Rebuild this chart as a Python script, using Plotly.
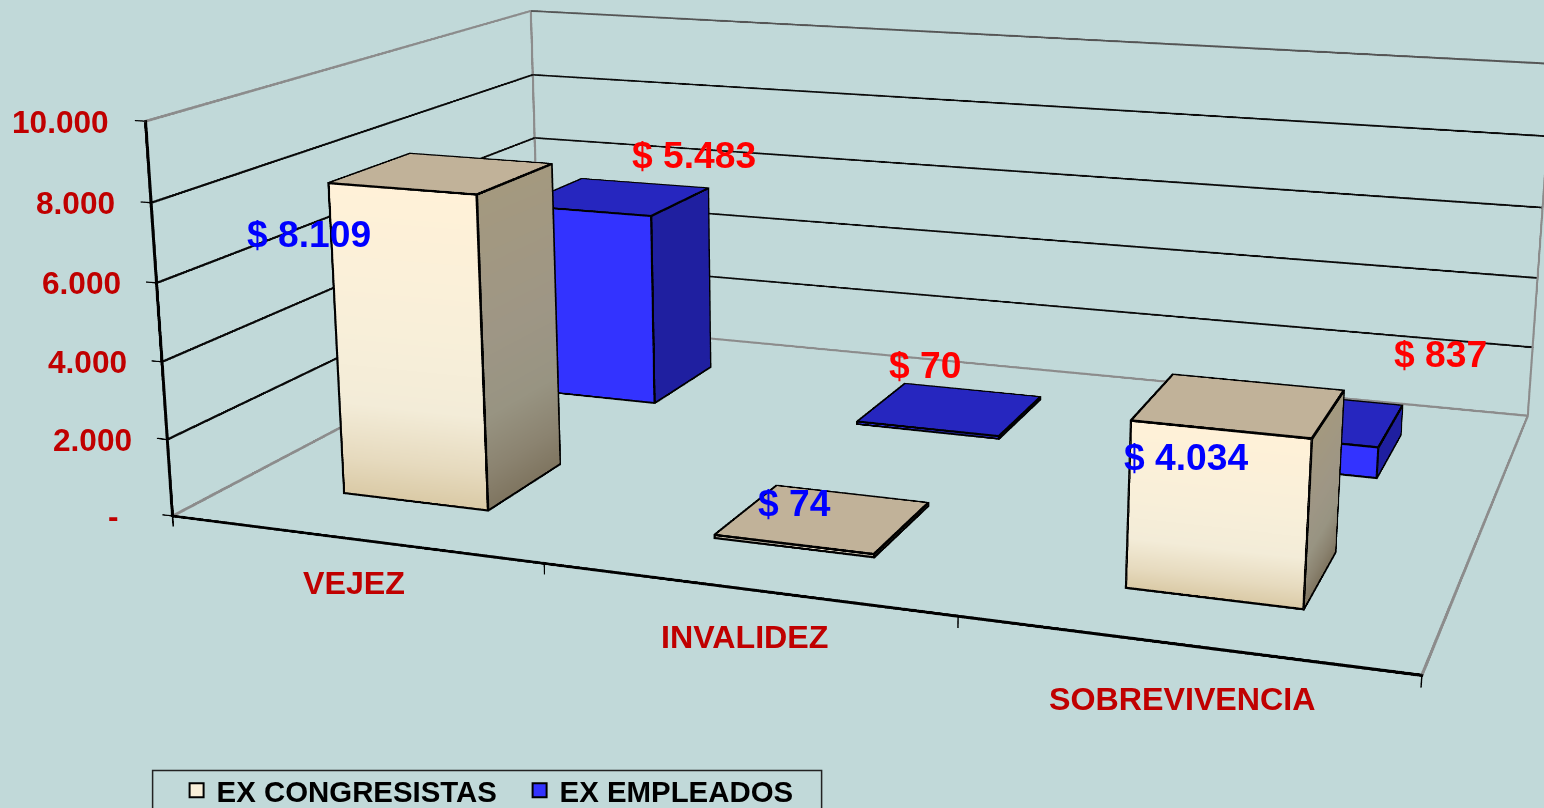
import math
import numpy as np
import plotly.graph_objects as go

# ---------- data ----------
CATEGORIES = ["VEJEZ", "INVALIDEZ", "SOBREVIVENCIA"]
EX_CONGRESISTAS = [8109, 74, 4034]
EX_EMPLEADOS = [5483, 70, 837]
SERIES_NAMES = ["EX CONGRESISTAS", "EX EMPLEADOS"]
LABELS_CONGRESISTAS = ["$ 8.109", "$ 74", "$ 4.034"]
LABELS_EMPLEADOS = ["$ 5.483", "$ 70", "$ 837"]
Z_TICKS = [0, 2000, 4000, 6000, 8000, 10000]
Z_TICK_LABELS = ["-", "2.000", "4.000", "6.000", "8.000", "10.000"]

# ---------- style ----------
BG = "#C1D9D9"
ZMAX = 10000
XM = len(CATEGORIES)
BAR_X = (0.3, 0.7)
BAR_Y = [(0.15, 0.35), (0.65, 0.85)]
GRAD_STOPS = [0.0, 0.12, 0.3, 0.55, 1.0]
FRONT = [["#DACAA6", "#E6DABE", "#F3ECD8", "#F8EFD9", "#FFF1D8"],
         ["#3333FF"] * 5]
SIDE = [["#7F7560", "#8B8370", "#989482", "#9E9685", "#A4997F"],
        ["#1F1FA0"] * 5]
TOP = ["#C1B299", "#2626BF"]
EX, EY, EZ = 0.06, 0.02, 450   # room round the box for ticks and line thickness

# fitted camera
EYE = np.array([0.7093, -2.0832, 0.5274])
YAW, PITCH = 1.9213, -0.2662
ASPECT = np.array([1.0, 0.6722, 0.3235])
F, CX, CY = 2672.78, 834.4, 363.4
FIG_W, FIG_H = 4000, round(2 * F * math.tan(math.pi / 8))
LEFT, TOP_OFF = CX - FIG_W / 2, CY - FIG_H / 2
PX = np.linalg.norm(EYE) / F   # scene units per pixel, roughly

D = np.array([math.cos(PITCH) * math.cos(YAW), math.cos(PITCH) * math.sin(YAW), math.sin(PITCH)])
CENTER = EYE + D * np.linalg.norm(EYE)
R = np.cross(D, [0, 0, 1]); R = R / np.linalg.norm(R)
U = np.cross(R, D)


def project(x, y, z):
    w = (np.array([x / XM, y, z / ZMAX]) - 0.5) * ASPECT - EYE
    return CX + F * (w @ R) / (w @ D), CY - F * (w @ U) / (w @ D)


def box(x0, x1, y0, y1, h, front, side, top):
    xs, ys, zs, cs, I, J, K = [], [], [], [], [], [], []

    def quad_strip(p0, p1, colors):
        n = len(xs)
        for t, c in zip(GRAD_STOPS, colors):
            for p in (p0, p1):
                xs.append(p[0]); ys.append(p[1]); zs.append(h * t); cs.append(c)
        for r in range(len(GRAD_STOPS) - 1):
            a = n + 2 * r
            I.extend([a, a + 1]); J.extend([a + 1, a + 3]); K.extend([a + 2, a + 2])

    quad_strip((x0, y0), (x1, y0), front)
    quad_strip((x1, y0), (x1, y1), side)
    quad_strip((x1, y1), (x0, y1), side)
    quad_strip((x0, y1), (x0, y0), front)
    n = len(xs)
    for px, py in ((x0, y0), (x1, y0), (x1, y1), (x0, y1)):
        xs.append(px); ys.append(py); zs.append(h); cs.append(top)
    I.extend([n, n]); J.extend([n + 1, n + 2]); K.extend([n + 2, n + 3])
    return go.Mesh3d(x=xs, y=ys, z=zs, i=I, j=J, k=K, vertexcolor=cs, flatshading=True,
                     lighting=dict(ambient=1, diffuse=0, specular=0, fresnel=0, roughness=1),
                     hoverinfo="skip", showlegend=False)


def bar_segments(x0, x1, y0, y1, h):
    c = [(x0, y0), (x1, y0), (x1, y1), (x0, y1)]
    seg = []
    for i in range(4):
        a, b = c[i], c[(i + 1) % 4]
        seg.append(((a[0], a[1], 0), (b[0], b[1], 0)))
        seg.append(((a[0], a[1], h), (b[0], b[1], h)))
        seg.append(((a[0], a[1], 0), (a[0], a[1], h)))
    return seg


def lines_mesh(segments, color, width_px):
    """Axis-aligned segments drawn as thin tubes: WebGL lines stay one pixel wide."""
    h = 0.42 * width_px * PX
    hv = np.array([h * XM / ASPECT[0], h / ASPECT[1], h * ZMAX / ASPECT[2]])
    xs, ys, zs, I, J, K = [], [], [], [], [], []
    tris = [(0, 1, 2), (0, 2, 3), (4, 5, 6), (4, 6, 7), (0, 1, 5), (0, 5, 4),
            (1, 2, 6), (1, 6, 5), (2, 3, 7), (2, 7, 6), (3, 0, 4), (3, 4, 7)]
    for a, b in segments:
        lo = np.minimum(a, b) - hv
        hi = np.maximum(a, b) + hv
        n = len(xs)
        for px, py, pz in [(0, 0, 0), (1, 0, 0), (1, 1, 0), (0, 1, 0),
                           (0, 0, 1), (1, 0, 1), (1, 1, 1), (0, 1, 1)]:
            xs.append(float(hi[0] if px else lo[0]))
            ys.append(float(hi[1] if py else lo[1]))
            zs.append(float(hi[2] if pz else lo[2]))
        for t in tris:
            I.append(n + t[0]); J.append(n + t[1]); K.append(n + t[2])
    return go.Mesh3d(x=xs, y=ys, z=zs, i=I, j=J, k=K, color=color, flatshading=True,
                     lighting=dict(ambient=1, diffuse=0, specular=0, fresnel=0, roughness=1),
                     hoverinfo="skip", showlegend=False)


fig = go.Figure()
bar_edges = []
for s, vals in enumerate([EX_CONGRESISTAS, EX_EMPLEADOS]):
    for c, v in enumerate(vals):
        x0, x1 = c + BAR_X[0], c + BAR_X[1]
        y0, y1 = BAR_Y[s]
        fig.add_trace(box(x0, x1, y0, y1, v, FRONT[s], SIDE[s], TOP[s]))
        bar_edges += bar_segments(x0, x1, y0, y1, v)
fig.add_trace(lines_mesh(bar_edges, "#000000", 2.2))

grid = []
for z in Z_TICKS[1:-1]:
    grid.append(((0, 0, z), (0, 1, z)))
    grid.append(((0, 1, z), (XM, 1, z)))
fig.add_trace(lines_mesh(grid, "#0A0A0A", 2.0))

frame = [((0, 0, ZMAX), (0, 1, ZMAX)), ((0, 1, 0), (0, 1, ZMAX)), ((XM, 1, 0), (XM, 1, ZMAX)),
         ((0, 0, 0), (0, 1, 0)), ((0, 1, 0), (XM, 1, 0)), ((XM, 1, 0), (XM, 0, 0))]
fig.add_trace(lines_mesh(frame, "#8C8C8C", 2.4))
fig.add_trace(lines_mesh([((0, 1, ZMAX), (XM, 1, ZMAX))], "#555555", 2.2))
fig.add_trace(lines_mesh([((0, 0, ZMAX), (0, 0, 0)), ((0, 0, 0), (XM, 0, 0))], "#000000", 2.4))

TICK_X, TICK_Z = 0.027, 260
ticks = [((-TICK_X, 0, z), (0, 0, z)) for z in Z_TICKS]
ticks += [((x, 0, -TICK_Z), (x, 0, 0)) for x in range(XM + 1)]
fig.add_trace(lines_mesh(ticks, "#000000", 1.2))

# legend entries
for name, col in zip(SERIES_NAMES, ["#F8EFD9", "#3333FF"]):
    fig.add_trace(go.Scatter3d(x=[None], y=[None], z=[None], mode="markers", name=name,
                               marker=dict(symbol="square", size=14, color=col,
                                           line=dict(color="black", width=2))))

RED_DARK = "#C00000"
FONT = "Liberation Sans"
ann = []


def label(text, x, y, z, tx, ty, size, color, xanchor="center"):
    px, py = project(x, y, z)
    ann.append(dict(x=x, y=y, z=z, text=text, showarrow=False, xanchor=xanchor, yanchor="middle",
                    xshift=tx - px, yshift=py - ty,
                    font=dict(family=FONT, size=size, color=color, weight=700)))


tick_targets = [(121, 516.5), (134, 440.5), (129, 362.5), (123, 283.5), (117, 203.5), (111, 122.5)]
for z, t, (tx, ty) in zip(Z_TICKS, Z_TICK_LABELS, tick_targets):
    label(t, 0, 0, z, tx, ty, 31.6, RED_DARK, "right")
for i, (c, (tx, ty)) in enumerate(zip(CATEGORIES, [(354, 583), (745, 637), (1183, 699)])):
    label(c, i + 0.5, 0, 0, tx, ty, 32.2, RED_DARK)
for i, (t, v, (tx, ty)) in enumerate(zip(LABELS_CONGRESISTAS, EX_CONGRESISTAS,
                                         [(309, 234.5), (795, 503), (1186, 457.5)])):
    label(t, i + 0.5, BAR_Y[0][0], v, tx, ty, 37.2, "#0000FF")
for i, (t, v, (tx, ty)) in enumerate(zip(LABELS_EMPLEADOS, EX_EMPLEADOS,
                                         [(694, 155.5), (925, 365.5), (1441, 354.5)])):
    label(t, i + 0.5, BAR_Y[1][0], v, tx, ty, 37.2, "#FF0000")


def paper(px, py):
    return (px - LEFT) / FIG_W, 1 - (py - TOP_OFF) / FIG_H


lx, ly = paper(177, 765)
rx0, ry0 = paper(153, 771)
rx1, ry1 = paper(822, 830)
axis_common = dict(showbackground=False, showspikes=False, zeroline=False, showticklabels=False,
                   title=dict(text=""), showline=False, mirror=False, autorange=False,
                   showgrid=False, ticks="")
fig.update_layout(
    width=FIG_W, height=FIG_H, autosize=False,
    margin=dict(l=0, r=0, t=0, b=0, pad=0),
    paper_bgcolor=BG, plot_bgcolor=BG,
    scene=dict(
        domain=dict(x=[0, 1], y=[0, 1]), bgcolor=BG, aspectmode="manual",
        aspectratio=dict(x=float(ASPECT[0] * (XM + 2 * EX) / XM),
                         y=float(ASPECT[1] * (1 + 2 * EY)),
                         z=float(ASPECT[2] * (ZMAX + 2 * EZ) / ZMAX)),
        camera=dict(eye=dict(x=float(EYE[0]), y=float(EYE[1]), z=float(EYE[2])),
                    center=dict(x=float(CENTER[0]), y=float(CENTER[1]), z=float(CENTER[2])),
                    up=dict(x=0, y=0, z=1), projection=dict(type="perspective")),
        xaxis=dict(range=[-EX, XM + EX], **axis_common),
        yaxis=dict(range=[-EY, 1 + EY], **axis_common),
        zaxis=dict(range=[-EZ, ZMAX + EZ], **axis_common),
        annotations=ann,
    ),
    showlegend=True,
    legend=dict(orientation="h", x=lx, y=ly, xanchor="left", yanchor="top", bgcolor="rgba(0,0,0,0)",
                borderwidth=0, itemwidth=30, entrywidth=298, entrywidthmode="pixels",
                font=dict(family=FONT, size=29.4, color="black", weight=700), itemclick=False,
                itemdoubleclick=False),
    shapes=[dict(type="rect", xref="paper", yref="paper", x0=rx0, x1=rx1, y0=ry0, y1=ry1,
                 line=dict(color="#222222", width=1.5), fillcolor="rgba(0,0,0,0)")],
)

post = ("var g=document.getElementById('{plot_id}');"
        "document.documentElement.style.overflow='hidden';document.body.style.overflow='hidden';"
        "document.body.style.margin='0';g.style.position='absolute';"
        f"g.style.left='{LEFT:.1f}px';g.style.top='{TOP_OFF:.1f}px';")
fig.write_html("out.html", post_script=post, config=dict(displayModeBar=False, responsive=False))
